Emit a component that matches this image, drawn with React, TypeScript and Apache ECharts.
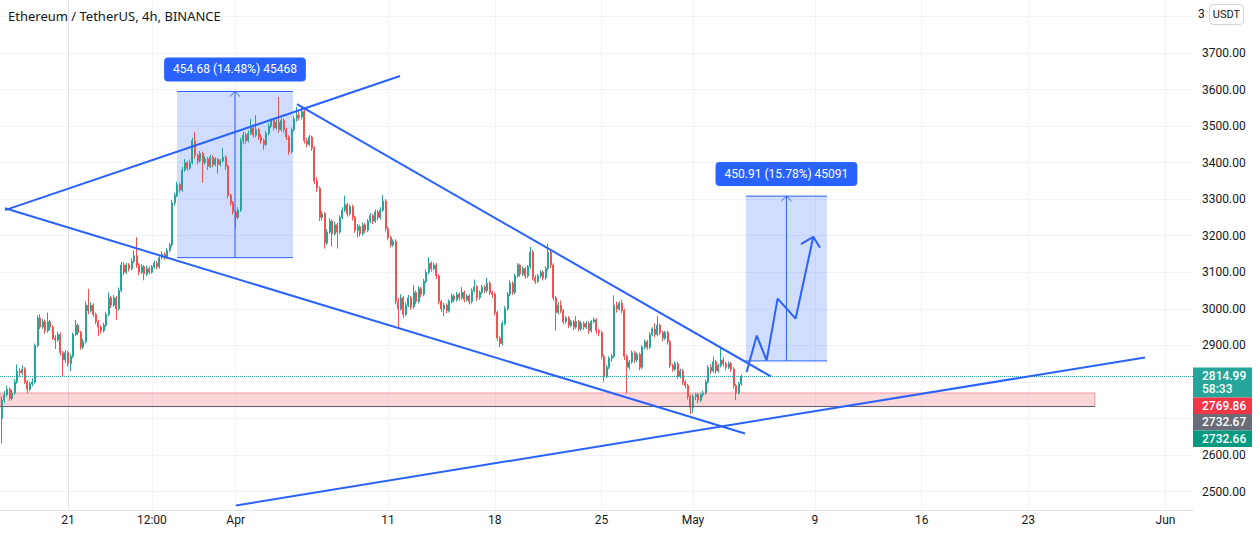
import React, { useEffect, useRef } from 'react';
import * as echarts from 'echarts';

// ---------- data ----------
const chartTitle = 'Ethereum / TetherUS, 4h, BINANCE';
const firstOpen = 2700;
// days counted from 21 Mar 00:00; first candle opens 16 Mar 16:00, 4h candles
const firstCandleDay = -4 - 1 / 3;
const candleStepDays = 1 / 6;
// each row: [close, low, high]; open = previous close
const candleRows: number[][] = [
  [2750, 2632, 2760], [2765, 2742, 2775], [2780, 2760, 2790], [2755, 2748, 2785], [2770, 2750, 2778],
  [2800, 2765, 2808], [2830, 2795, 2848], [2825, 2815, 2838], [2835, 2818, 2845], [2800, 2795, 2840],
  [2780, 2768, 2805], [2795, 2775, 2800], [2800, 2788, 2810], [2900, 2795, 2905], [2975, 2895, 2982],
  [2950, 2945, 2985], [2965, 2945, 2972], [2940, 2932, 2970], [2965, 2935, 2990], [2950, 2942, 2970],
  [2920, 2915, 2955], [2915, 2890, 2928], [2930, 2910, 2938], [2880, 2872, 2935], [2860, 2815, 2885],
  [2880, 2852, 2888], [2850, 2842, 2885], [2870, 2830, 2876], [2930, 2865, 2935], [2955, 2925, 2970],
  [2935, 2928, 2960], [2895, 2888, 2940], [2910, 2890, 2918], [3010, 2905, 3020], [2995, 2985, 3055],
  [3010, 2990, 3018], [2985, 2978, 3015], [2965, 2958, 2990], [2950, 2925, 2970], [2940, 2932, 2955],
  [2955, 2935, 2962], [2985, 2950, 2992], [3030, 2980, 3045], [3010, 3002, 3035], [3030, 3005, 3038],
  [3000, 2970, 3035], [3050, 2995, 3058], [3120, 3045, 3128], [3100, 3092, 3128], [3120, 3095, 3126],
  [3110, 3102, 3125], [3130, 3105, 3138], [3145, 3125, 3160], [3120, 3112, 3196], [3100, 3092, 3125],
  [3115, 3095, 3122], [3095, 3078, 3120], [3110, 3090, 3118], [3100, 3094, 3115], [3115, 3096, 3120],
  [3125, 3110, 3132], [3115, 3108, 3130], [3140, 3110, 3146], [3150, 3135, 3158], [3140, 3134, 3155],
  [3160, 3136, 3166], [3175, 3155, 3180], [3290, 3170, 3298], [3310, 3282, 3318], [3340, 3305, 3348],
  [3325, 3318, 3345], [3380, 3320, 3388], [3400, 3375, 3410], [3385, 3378, 3405], [3400, 3380, 3408],
  [3460, 3395, 3468], [3420, 3412, 3485], [3405, 3395, 3425], [3425, 3400, 3432], [3400, 3345, 3430],
  [3410, 3395, 3418], [3390, 3380, 3415], [3415, 3385, 3422], [3395, 3388, 3420], [3410, 3390, 3415],
  [3395, 3370, 3412], [3405, 3390, 3410], [3415, 3400, 3440], [3390, 3380, 3420], [3310, 3302, 3395],
  [3290, 3282, 3315], [3265, 3258, 3295], [3250, 3220, 3270], [3270, 3245, 3278], [3460, 3265, 3468],
  [3475, 3450, 3485], [3460, 3452, 3482], [3480, 3455, 3488], [3495, 3475, 3520], [3475, 3468, 3500],
  [3490, 3470, 3530], [3470, 3462, 3495], [3460, 3452, 3478], [3450, 3435, 3465], [3480, 3445, 3486],
  [3500, 3475, 3508], [3515, 3495, 3522], [3495, 3488, 3520], [3510, 3490, 3518], [3490, 3482, 3580],
  [3515, 3485, 3522], [3490, 3482, 3520], [3470, 3462, 3495], [3430, 3422, 3475], [3490, 3425, 3496],
  [3520, 3485, 3528], [3530, 3512, 3552], [3525, 3515, 3540], [3540, 3518, 3555], [3460, 3452, 3545],
  [3450, 3442, 3468], [3470, 3445, 3476], [3440, 3432, 3474], [3350, 3342, 3445], [3330, 3320, 3360],
  [3250, 3240, 3335], [3260, 3242, 3268], [3180, 3165, 3265], [3210, 3175, 3218], [3240, 3205, 3248],
  [3205, 3170, 3245], [3230, 3200, 3238], [3210, 3165, 3235], [3250, 3205, 3256], [3270, 3245, 3278],
  [3285, 3265, 3310], [3260, 3252, 3290], [3280, 3255, 3286], [3250, 3242, 3285], [3215, 3208, 3255],
  [3225, 3195, 3232], [3205, 3198, 3230], [3230, 3200, 3236], [3215, 3208, 3235], [3240, 3210, 3246],
  [3255, 3235, 3262], [3240, 3232, 3260], [3265, 3235, 3272], [3250, 3242, 3270], [3270, 3245, 3278],
  [3295, 3265, 3311], [3220, 3212, 3300], [3195, 3188, 3225], [3175, 3168, 3200], [3185, 3170, 3190],
  [3020, 3012, 3190], [3000, 2950, 3030], [3030, 2995, 3040], [2985, 2975, 3035], [3010, 2980, 3018],
  [3030, 3005, 3038], [3005, 2998, 3035], [3045, 3000, 3065], [3020, 3012, 3050], [3055, 3015, 3062],
  [3040, 3032, 3060], [3075, 3035, 3082], [3100, 3070, 3108], [3125, 3095, 3141], [3110, 3102, 3130],
  [3120, 3105, 3126], [3090, 3082, 3125], [3020, 3012, 3095], [3000, 2992, 3025], [3010, 2980, 3016],
  [2995, 2988, 3015], [3020, 2990, 3026], [3035, 3015, 3042], [3025, 3018, 3040], [3040, 3020, 3046],
  [3030, 3022, 3045], [3045, 3025, 3060], [3025, 3018, 3050], [3035, 3020, 3040], [3020, 3012, 3040],
  [3050, 3015, 3056], [3060, 3045, 3080], [3030, 3022, 3065], [3045, 3025, 3050], [3060, 3040, 3066],
  [3050, 3042, 3065], [3070, 3045, 3085], [3045, 3038, 3075], [3040, 3030, 3050], [2990, 2982, 3045],
  [2920, 2912, 2995], [2905, 2895, 2925], [2960, 2900, 2966], [3000, 2955, 3008], [3040, 2995, 3046],
  [3070, 3035, 3078], [3045, 3038, 3075], [3090, 3040, 3096], [3120, 3085, 3125], [3095, 3088, 3124],
  [3110, 3090, 3116], [3090, 3082, 3115], [3115, 3085, 3120], [3155, 3110, 3170], [3085, 3078, 3160],
  [3075, 3068, 3092], [3090, 3070, 3096], [3100, 3085, 3106], [3085, 3078, 3105], [3110, 3080, 3116],
  [3155, 3105, 3178], [3120, 3112, 3162], [3030, 3022, 3125], [2990, 2940, 3035], [3010, 2985, 3018],
  [2995, 2988, 3023], [2965, 2958, 3000], [2975, 2960, 2980], [2955, 2948, 2980], [2965, 2950, 2970],
  [2950, 2942, 2970], [2965, 2945, 2980], [2945, 2938, 2970], [2960, 2940, 2966], [2950, 2942, 2965],
  [2960, 2945, 2966], [2940, 2932, 2965], [2965, 2935, 2970], [2970, 2960, 2976], [2940, 2932, 2975],
  [2935, 2925, 2945], [2870, 2862, 2940], [2815, 2800, 2875], [2840, 2810, 2846], [2865, 2835, 2870],
  [2870, 2855, 2876], [3010, 2865, 3037], [3000, 2990, 3020], [3015, 2995, 3020], [2995, 2988, 3025],
  [2870, 2860, 3000], [2840, 2768, 2875], [2855, 2835, 2860], [2880, 2850, 2886], [2860, 2852, 2885],
  [2875, 2855, 2880], [2840, 2832, 2880], [2895, 2835, 2900], [2910, 2890, 2916], [2895, 2888, 2915],
  [2930, 2890, 2936], [2945, 2925, 2950], [2930, 2922, 2960], [2955, 2925, 2980], [2935, 2928, 2960],
  [2920, 2912, 2940], [2935, 2915, 2940], [2910, 2902, 2940], [2845, 2838, 2915], [2835, 2828, 2850],
  [2850, 2830, 2856], [2815, 2808, 2855], [2830, 2810, 2836], [2800, 2792, 2835], [2790, 2782, 2805],
  [2760, 2752, 2795], [2730, 2712, 2765], [2760, 2715, 2766], [2765, 2750, 2770], [2750, 2742, 2770],
  [2765, 2745, 2770], [2770, 2758, 2776], [2800, 2765, 2806], [2840, 2795, 2846], [2830, 2822, 2848],
  [2855, 2825, 2870], [2830, 2822, 2860], [2845, 2825, 2850], [2860, 2840, 2895], [2850, 2842, 2868],
  [2840, 2832, 2855], [2850, 2835, 2856], [2835, 2828, 2855], [2790, 2782, 2840], [2770, 2750, 2795],
  [2795, 2765, 2800], [2814.99, 2790, 2820],
];

const xTickDays = [0, 5.5, 11, 21, 28, 35, 41, 49, 56, 63, 72];
const xTickLabels = ['21', '12:00', 'Apr', '11', '18', '25', 'May', '9', '16', '23', 'Jun'];
const yGridTicks = [2500, 2600, 2700, 2800, 2900, 3000, 3100, 3200, 3300, 3400, 3500, 3600, 3700, 3800];
const yLabelTicks = [2500, 2600, 2900, 3000, 3100, 3200, 3300, 3400, 3500, 3600, 3700];

const lastPrice = 2814.99;
const countdown = '58:33';
const zoneTop = 2769.86;
const zoneBottom = 2732.67;
const secondLastLabel = 2732.66;
const zoneEndDay = 67.37;

// drawn trend lines: [day, price]
const upperRisingLine = [[-4.13, 3270], [21.78, 3637]];
const lowerFallingLine = [[-4.13, 3275], [44.41, 2659]];
const descendingLine = [[15.02, 3560], [46.11, 2815]];
const bottomRisingLine = [[11.02, 2462], [70.65, 2867]];
const projectionPath = [[44.52, 2827], [45.18, 2927], [45.83, 2859], [46.55, 3028], [47.73, 2973], [48.89, 3197]];
const projectionHead = [[48.08, 3177], [48.89, 3197], [49.33, 3167]];

// measure boxes
const measures = [
  { x0: 7.15, x1: 14.76, base: 3140.0, top: 3594.68, label: '454.68 (14.48%) 45468' },
  { x0: 44.47, x1: 49.79, base: 2857.5, top: 3308.41, label: '450.91 (15.78%) 45091' },
];

// ---------- styles ----------
const UP = '#26a69a';
const DOWN = '#ef5350';
const BLUE = '#2962ff';
const TEXT = '#131722';
const GRID = '#f0f3fa';
const FONT = 'Roboto, "Noto Sans", sans-serif';

const xMin = -4.46;
const xMax = 73.8;
const yMin = 2449.6;
const yMax = 3845.0;

function lineSeries(points: number[][], color: string, width: number, type: string = 'solid', z = 4) {
  return {
    type: 'line',
    data: points,
    symbol: 'none',
    silent: true,
    animation: false,
    z,
    lineStyle: { color, width, type },
  };
}

export default function App() {
  const ref = useRef<HTMLDivElement>(null);
  useEffect(() => {
    document.body.style.margin = '0';
    const chart = echarts.init(ref.current!, null, { renderer: 'svg' });

    const data = candleRows.map((r, i) => {
      const open = i === 0 ? firstOpen : candleRows[i - 1][0];
      return [firstCandleDay + i * candleStepDays, open, r[0], r[1], r[2]];
    });

    const measureSeries: any[] = [];
    measures.forEach((m) => {
      const mid = (m.x0 + m.x1) / 2;
      const chevH = (m.top - m.base) * 0.03;
      measureSeries.push(lineSeries([[m.x0, m.top], [m.x1, m.top]], BLUE, 1));
      measureSeries.push(lineSeries([[m.x0, m.base], [m.x1, m.base]], BLUE, 1));
      measureSeries.push(lineSeries([[mid, m.base], [mid, m.top]], BLUE, 1));
      measureSeries.push(lineSeries([[mid - 0.33, m.top - chevH], [mid, m.top], [mid + 0.33, m.top - chevH]], BLUE, 1));
    });

    const option: any = {
      animation: false,
      textStyle: { fontFamily: FONT },
      grid: { left: 0, right: 67, top: 0, bottom: 23, containLabel: false },
      xAxis: {
        type: 'value',
        min: xMin,
        max: xMax,
        axisLine: { show: true, lineStyle: { color: '#e0e3eb' } },
        axisTick: { show: false, customValues: xTickDays },
        axisLabel: {
          customValues: xTickDays,
          color: TEXT,
          fontSize: 12,
          fontFamily: FONT,
          margin: 4,
          formatter: (v: number) => {
            const idx = xTickDays.findIndex((d) => Math.abs(d - v) < 1e-6);
            return idx >= 0 ? xTickLabels[idx] : '';
          },
        },
        splitLine: { show: true, lineStyle: { color: GRID, width: 1 } },
      },
      yAxis: {
        type: 'value',
        position: 'right',
        min: yMin,
        max: yMax,
        axisLine: { show: true, lineStyle: { color: '#e0e3eb' } },
        axisTick: { show: false, customValues: yGridTicks },
        axisLabel: {
          customValues: yLabelTicks,
          color: TEXT,
          fontSize: 12,
          fontFamily: FONT,
          margin: 9,
          formatter: (v: number) => v.toFixed(2),
        },
        splitLine: { show: true, lineStyle: { color: GRID, width: 1 } },
      },
      series: [
        {
          type: 'line',
          data: [],
          silent: true,
          z: 1,
          markArea: {
            silent: true,
            data: [
              [
                { coord: [xMin, zoneTop], itemStyle: { color: 'rgba(242,54,69,0.2)', borderColor: 'rgba(242,54,69,0.45)', borderWidth: 1 } },
                { coord: [zoneEndDay, zoneBottom] },
              ],
              ...measures.map((m) => [
                {
                  coord: [m.x0, m.top],
                  itemStyle: { color: 'rgba(41,98,255,0.22)' },
                  label: {
                    show: true,
                    position: 'top',
                    distance: 10,
                    formatter: m.label,
                    color: '#ffffff',
                    fontSize: 12,
                    fontFamily: FONT,
                    backgroundColor: BLUE,
                    borderRadius: 4,
                    padding: [5, 9],
                    lineHeight: 14,
                  },
                },
                { coord: [m.x1, m.base] },
              ]),
            ],
          },
        },
        {
          type: 'candlestick',
          data,
          encode: { x: 0, y: [1, 2, 3, 4] },
          barWidth: 1.5,
          z: 2,
          itemStyle: { color: UP, color0: DOWN, borderColor: UP, borderColor0: DOWN, borderWidth: 1 },
        },
        lineSeries([[xMin, lastPrice], [xMax, lastPrice]], UP, 1, 'dotted', 3),
        lineSeries([[xMin, zoneBottom], [zoneEndDay, zoneBottom]], '#5d606b', 1, 'solid', 3),
        ...measureSeries,
        lineSeries(upperRisingLine, BLUE, 2),
        lineSeries(lowerFallingLine, BLUE, 2),
        lineSeries(descendingLine, BLUE, 2),
        lineSeries(bottomRisingLine, BLUE, 2),
        lineSeries(projectionPath, BLUE, 2),
        lineSeries(projectionHead, BLUE, 2),
      ],
    };
    chart.setOption(option);

    const yp = (v: number) => chart.convertToPixel({ yAxisIndex: 0 }, v) as number;
    const boxX = 1193;
    const boxW = 59;
    const yLast = yp(lastPrice);
    const boxes = [
      { top: yLast - 9, h: 30, color: UP, lines: [lastPrice.toFixed(2), countdown] },
    ];
    let nextTop = yLast + 21;
    [
      { v: zoneTop, color: '#f23645' },
      { v: zoneBottom, color: '#6a6d78' },
      { v: secondLastLabel, color: '#089981' },
    ].forEach((b) => {
      const top = Math.max(nextTop, yp(b.v) - 8);
      boxes.push({ top, h: 16.5, color: b.color, lines: [b.v.toFixed(2)] });
      nextTop = top + 16.5;
    });

    const graphic: any[] = [
      {
        type: 'text',
        left: 8,
        top: 9,
        style: { text: chartTitle, fill: TEXT, font: `13px "Noto Sans", sans-serif` },
      },
      {
        type: 'text',
        x: 1198,
        y: 8,
        style: { text: '3', fill: TEXT, font: `12px ${FONT}` },
      },
      {
        type: 'rect',
        shape: { x: 1209.5, y: 4.5, width: 34, height: 20, r: 4 },
        style: { fill: '#ffffff', stroke: '#d1d4dc', lineWidth: 1 },
      },
      {
        type: 'text',
        x: 1226.5,
        y: 14.5,
        style: { text: 'USDT', fill: TEXT, font: `11px ${FONT}`, align: 'center', verticalAlign: 'middle' },
      },
    ];
    boxes.forEach((b) => {
      graphic.push({
        type: 'rect',
        shape: { x: boxX, y: b.top, width: boxW, height: b.h },
        style: { fill: b.color },
        z: 10,
      });
      b.lines.forEach((t, k) => {
        graphic.push({
          type: 'text',
          x: boxX + 9,
          y: b.top + 8.5 + k * 13,
          style: { text: t, fill: '#ffffff', font: `500 12px ${FONT}`, verticalAlign: 'middle' },
          z: 11,
        });
      });
    });
    chart.setOption({ graphic });

    return () => chart.dispose();
  }, []);
  return <div ref={ref} style={{ width: 1260, height: 533 }} />;
}
